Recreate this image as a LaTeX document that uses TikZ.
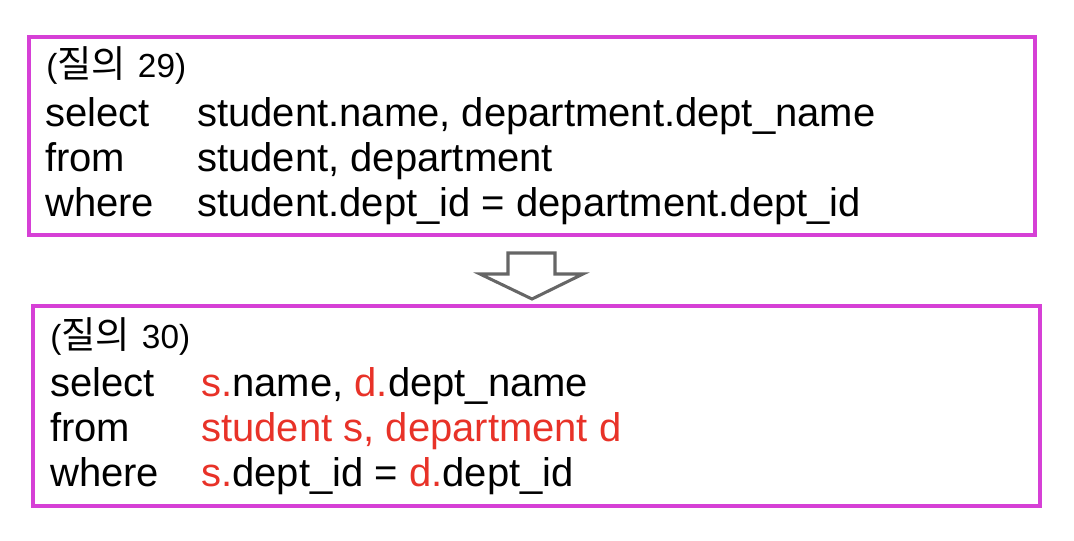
\documentclass[tikz,border=0pt]{standalone}
\usepackage{fontspec}
\setmainfont{Liberation Sans}
\newfontfamily\cjk{Noto Sans CJK KR}
\definecolor{boxmag}{RGB}{214,64,214}
\definecolor{sqlred}{RGB}{232,50,40}
\definecolor{arrgray}{RGB}{102,102,102}
\begin{document}
\begin{tikzpicture}[x=0.75pt,y=-0.75pt,
  frame/.style={draw=boxmag,line width=2.4pt},
  kw/.style={anchor=base west,inner sep=0pt,font=\fontsize{30}{36}\selectfont},
  ttl/.style={anchor=base west,inner sep=0pt,font=\fontsize{25}{30}\selectfont},
  hi/.style={text=sqlred}]
\useasboundingbox (0,0) rectangle (1074,540);
% boxes
\draw[frame] (29,37) rectangle (1035,235);
\draw[frame] (33,306) rectangle (1040,506);
% top query
\node[ttl] (t1) at (46,77) {({\cjk\fontsize{28}{32}\selectfont 질의}\hspace{2pt} 29)};
\node[kw] (s1) at (45,126) {select};
\node[kw] (f1) at (45,171) {from};
\node[kw] (w1) at (45,216) {where};
\node[kw] (s1b) at (197,126) {student.name, department.dept\_name};
\node[kw] (f1b) at (197,171) {student, department};
\node[kw] (w1b) at (197,216) {student.dept\_id = department.dept\_id};
% arrow
\draw[arrgray,line width=2.3pt,line join=miter] (508,253) -- (555,253) -- (555,274) -- (583,274) -- (532,299) -- (480,274) -- (508,274) -- cycle;
% bottom query
\node[ttl] (t2) at (50,348) {({\cjk\fontsize{28}{32}\selectfont 질의}\hspace{2pt} 30)};
\node[kw] (s2) at (50,396) {select};
\node[kw] (f2) at (50,441) {from};
\node[kw] (w2) at (50,486) {where};
\node[kw] (s2b) at (201,396) {\textcolor{sqlred}{s.}name, \textcolor{sqlred}{d.}dept\_name};
\node[kw,hi] (f2b) at (201,441) {student s, department d};
\node[kw] (w2b) at (201,486) {\textcolor{sqlred}{s.}dept\_id = \textcolor{sqlred}{d.}dept\_id};
\end{tikzpicture}
\end{document}
